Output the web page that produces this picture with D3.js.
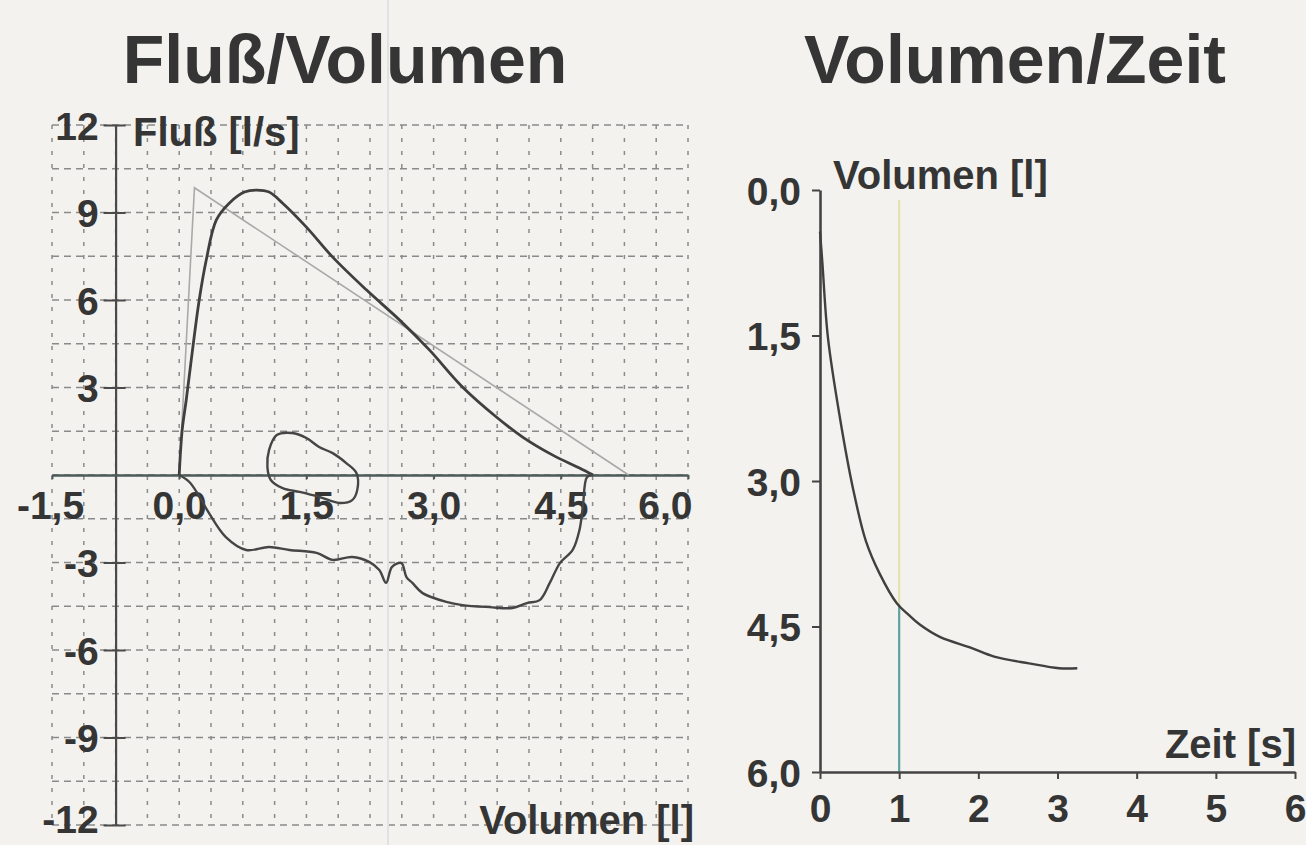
<!DOCTYPE html>
<html>
<head>
<meta charset="utf-8">
<script src="https://cdn.jsdelivr.net/npm/d3@7"></script>
<style>
  body { margin: 0; background: #f3f2ee; }
  svg { display: block; }
  text { font-family: "Liberation Sans", Arial, sans-serif; font-weight: bold; fill: #353535; }
</style>
</head>
<body>
<svg id="chart" width="1306" height="845"></svg>
<script>
// Fluss/Volumen: expiration (upper), inspiration (lower), small loop
const exp_vol  = [0, 0.035, 0.083, 0.142, 0.236, 0.319, 0.437, 0.59, 0.77, 0.91, 1.06, 1.22, 1.50, 1.81, 2.21, 2.60, 2.95, 3.34, 3.74, 4.05, 4.40, 4.72, 4.88];
const exp_flow = [0, 1.54, 2.57, 3.94, 6.0, 7.37, 8.74, 9.32, 9.70, 9.77, 9.70, 9.32, 8.50, 7.47, 6.34, 5.31, 4.29, 3.02, 1.99, 1.30, 0.69, 0.24, 0];

const insp_vol  = [4.88, 4.81, 4.76, 4.72, 4.64, 4.49, 4.37, 4.25, 4.10, 3.93, 3.66, 3.34, 3.15, 2.87, 2.75, 2.68, 2.62, 2.51, 2.44, 2.36, 2.24, 2.04, 1.81, 1.62, 1.30, 1.06, 0.79, 0.55, 0.35, 0.24, 0.12, 0];
const insp_flow = [0, -0.07, -1.10, -1.89, -2.57, -3.02, -3.70, -4.29, -4.39, -4.56, -4.53, -4.46, -4.35, -4.05, -3.70, -3.50, -3.02, -3.15, -3.70, -3.26, -2.98, -2.81, -2.91, -2.67, -2.57, -2.47, -2.57, -2.13, -1.30, -0.75, -0.24, 0];

const loop_vol  = [1.15, 1.33, 1.50, 1.65, 1.81, 1.97, 2.09, 2.10, 2.04, 1.89, 1.65, 1.42, 1.22, 1.08, 1.04, 1.06];
const loop_flow = [1.37, 1.44, 1.27, 0.96, 0.75, 0.41, 0.07, -0.51, -0.86, -0.96, -0.75, -0.58, -0.45, -0.17, 0.27, 0.86];

// Sollkurve (thin line)
const pred_vol  = [0, 0.18, 5.3];
const pred_flow = [0, 9.85, 0];

// Volumen/Zeit
const vt_time = [0, 0.03, 0.10, 0.25, 0.42, 0.58, 0.75, 0.97, 1.12, 1.26, 1.52, 1.91, 2.2, 2.64, 3.02, 3.25];
const vt_vol  = [0.43, 0.75, 1.52, 2.34, 3.09, 3.62, 3.95, 4.26, 4.38, 4.48, 4.61, 4.72, 4.81, 4.88, 4.93, 4.93];

// ticks
const fv_x_ticks = [-1.5, 0, 1.5, 3, 4.5, 6];
const fv_y_ticks = [12, 9, 6, 3, -3, -6, -9, -12];
const vt_x_ticks = [0, 1, 2, 3, 4, 5, 6];
const vt_y_ticks = [0, 1.5, 3, 4.5, 6];
const marker_time = 1;

const tick_font = 39;
const label_font = 40;

const de = d3.formatLocale({decimal: ",", thousands: ".", grouping: [3], currency: ["", " €"], minus: "-"});
const fmt1 = de.format(".1f");
const fmt0 = de.format("d");

const svg = d3.select('#chart');
svg.append('rect').attr('width', 1306).attr('height', 845).attr('fill', '#f3f2ee');

const zip = (a, b) => a.map((v, i) => [v, b[i]]);

// ---------- left chart ----------
const xL = d3.scaleLinear().domain([-1.5, 6]).range([52, 688]);
const yL = d3.scaleLinear().domain([-12, 12]).range([825, 125]);

const grid = svg.append('g').attr('stroke', '#8a8a8a').attr('stroke-width', 1.5);
grid.selectAll('line.v')
    .data(d3.range(-1.5, 6.001, 0.375))
    .join('line').attr('class', 'v')
    .attr('x1', d => xL(d)).attr('x2', d => xL(d))
    .attr('y1', yL(12)).attr('y2', yL(-12))
    .attr('stroke-dasharray', '4,9');
grid.selectAll('line.h')
    .data(d3.range(-12, 12.001, 1.5))
    .join('line').attr('class', 'h')
    .attr('x1', xL(-1.5)).attr('x2', xL(6))
    .attr('y1', d => yL(d)).attr('y2', d => yL(d))
    .attr('stroke-dasharray', '7,5');

// faint scan line
svg.append('line')
    .attr('x1', 388).attr('x2', 388).attr('y1', 0).attr('y2', 845)
    .attr('stroke', '#dfe2e2').attr('stroke-width', 2);

// y axis at -0,75
const yAxisL = svg.append('g')
    .attr('transform', `translate(${xL(-0.75)},0)`)
    .call(d3.axisLeft(yL).tickValues(fv_y_ticks).tickFormat(fmt0).tickSize(12).tickSizeOuter(0).tickPadding(5));
yAxisL.select('.domain').attr('stroke', '#4a4a4a').attr('stroke-width', 2.2);
yAxisL.selectAll('.tick line').attr('x1', 10).attr('stroke', '#4a4a4a').attr('stroke-width', 2);
yAxisL.selectAll('.tick text').attr('font-size', tick_font).attr('font-family', null).attr('fill', null).attr('dy', '0.36em');
yAxisL.selectAll('.tick text').filter(d => d === -12).attr('dy', '0.2em');

// x axis at 0
const xAxisL = svg.append('g')
    .attr('transform', `translate(0,${yL(0)})`)
    .call(d3.axisBottom(xL).tickValues(fv_x_ticks).tickFormat(fmt1).tickSize(4).tickSizeOuter(0).tickPadding(12));
xAxisL.select('.domain').attr('stroke', '#4d5b58').attr('stroke-width', 2.6);
xAxisL.selectAll('.tick line').attr('stroke', '#4d5b58').attr('stroke-width', 2);
xAxisL.selectAll('.tick text').attr('font-size', tick_font).attr('font-family', null).attr('fill', null);
xAxisL.selectAll('.tick text').filter(d => d === 6).attr('text-anchor', 'end').attr('x', 4);
xAxisL.selectAll('.tick text').filter(d => d === -1.5).attr('x', -2);

// curves
const lineL = d3.line().x(d => xL(d[0])).y(d => yL(d[1]));
svg.append('path')
    .attr('d', lineL(zip(pred_vol, pred_flow)))
    .attr('fill', 'none').attr('stroke', '#a9a9a9').attr('stroke-width', 1.6);
svg.append('path')
    .attr('d', lineL.curve(d3.curveCatmullRom)(zip(exp_vol, exp_flow)))
    .attr('fill', 'none').attr('stroke', '#3f3f3f').attr('stroke-width', 2.8);
svg.append('path')
    .attr('d', lineL.curve(d3.curveCatmullRom)(zip(insp_vol, insp_flow)))
    .attr('fill', 'none').attr('stroke', '#454545').attr('stroke-width', 2.4);
svg.append('path')
    .attr('d', lineL.curve(d3.curveCatmullRomClosed)(zip(loop_vol, loop_flow)))
    .attr('fill', 'none').attr('stroke', '#454545').attr('stroke-width', 2.4);

svg.append('text').attr('x', 345).attr('y', 83).attr('text-anchor', 'middle')
    .attr('font-size', 68).text('Fluß/Volumen');
svg.append('text').attr('x', 133).attr('y', 146).attr('font-size', label_font).text('Fluß [l/s]');
svg.append('text').attr('x', 694).attr('y', 834).attr('text-anchor', 'end')
    .attr('font-size', label_font).text('Volumen [l]');

// ---------- right chart ----------
const xR = d3.scaleLinear().domain([0, 6]).range([820, 1295]);
const yR = d3.scaleLinear().domain([0, 6]).range([190, 772]);

// 1 s marker
const vAt1 = d3.scaleLinear().domain(vt_time).range(vt_vol)(marker_time);
svg.append('line')
    .attr('x1', xR(marker_time)).attr('x2', xR(marker_time))
    .attr('y1', 200).attr('y2', yR(vAt1))
    .attr('stroke', '#e6dfae').attr('stroke-width', 2);
svg.append('line')
    .attr('x1', xR(marker_time)).attr('x2', xR(marker_time))
    .attr('y1', yR(vAt1)).attr('y2', yR(6))
    .attr('stroke', '#5aa3a0').attr('stroke-width', 2.2);

const yAxisR = svg.append('g')
    .attr('transform', `translate(${xR(0)},0)`)
    .call(d3.axisLeft(yR).tickValues(vt_y_ticks).tickFormat(fmt1).tickSize(8).tickSizeOuter(0).tickPadding(11));
yAxisR.select('.domain').attr('stroke', '#444').attr('stroke-width', 2.6);
yAxisR.selectAll('.tick line').attr('stroke', '#444').attr('stroke-width', 2);
yAxisR.selectAll('.tick text').attr('font-size', tick_font).attr('font-family', null).attr('fill', null).attr('dy', '0.36em');

const xAxisR = svg.append('g')
    .attr('transform', `translate(0,${yR(6)})`)
    .call(d3.axisBottom(xR).tickValues(vt_x_ticks).tickFormat(fmt0).tickSize(7).tickSizeOuter(0).tickPadding(15));
xAxisR.select('.domain').attr('stroke', '#444').attr('stroke-width', 2.6);
xAxisR.selectAll('.tick line').attr('stroke', '#444').attr('stroke-width', 2);
xAxisR.selectAll('.tick text').attr('font-size', tick_font).attr('font-family', null).attr('fill', null);

const lineR = d3.line().x(d => xR(d[0])).y(d => yR(d[1])).curve(d3.curveCatmullRom);
svg.append('path')
    .attr('d', lineR(zip(vt_time, vt_vol)))
    .attr('fill', 'none').attr('stroke', '#404040').attr('stroke-width', 2.4);

svg.append('text').attr('x', 1015).attr('y', 83).attr('text-anchor', 'middle')
    .attr('font-size', 68).text('Volumen/Zeit');
svg.append('text').attr('x', 833).attr('y', 189).attr('font-size', label_font).text('Volumen [l]');
svg.append('text').attr('x', 1296).attr('y', 758).attr('text-anchor', 'end')
    .attr('font-size', label_font).text('Zeit [s]');
</script>
</body>
</html>
